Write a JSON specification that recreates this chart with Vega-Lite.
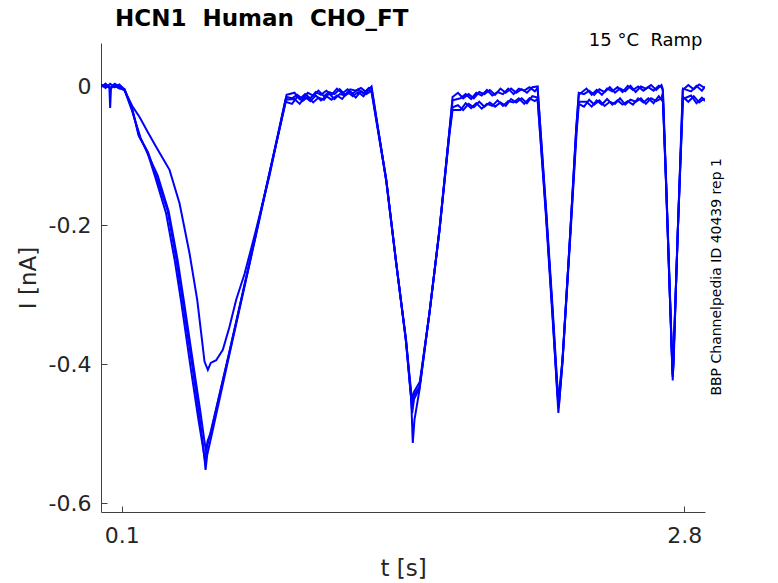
{
  "$schema": "https://vega.github.io/schema/vega-lite/v6.json",
  "width": 604,
  "height": 469,
  "autosize": {"type": "none"},
  "padding": {"left": 101, "top": 43, "right": 73, "bottom": 71},
  "background": "white",
  "config": {"view": {"stroke": null}},
  "title": {
    "text": "HCN1\u00a0 Human\u00a0 CHO_FT",
    "anchor": "start",
    "frame": "group",
    "dx": 14,
    "offset": 0,
    "dy": 17,
    "baseline": "alphabetic",
    "font": "DejaVu Sans",
    "fontSize": 23,
    "fontWeight": "bold",
    "color": "#000000"
  },
  "datasets": {
    "sweeps": [
      {"s":"A","t":0,"i":0.003},{"s":"A","t":0.022,"i":-0.002},{"s":"A","t":0.044,"i":0.004},{"s":"A","t":0.066,"i":-0.001},{"s":"A","t":0.088,"i":0.003},
      {"s":"A","t":0.113,"i":-0.004},{"s":"A","t":0.15,"i":-0.033},{"s":"A","t":0.185,"i":-0.073},{"s":"A","t":0.226,"i":-0.095},{"s":"A","t":0.266,"i":-0.13},{"s":"A","t":0.319,"i":-0.178},{"s":"A","t":0.362,"i":-0.25},{"s":"A","t":0.391,"i":-0.307},{"s":"A","t":0.439,"i":-0.404},{"s":"A","t":0.473,"i":-0.476},{"s":"A","t":0.487,"i":-0.509},{"s":"A","t":0.497,"i":-0.535},{"s":"A","t":0.502,"i":-0.552},{"s":"A","t":0.51,"i":-0.53},{"s":"A","t":0.526,"i":-0.509},{"s":"A","t":0.617,"i":-0.385},{"s":"A","t":0.713,"i":-0.256},{"s":"A","t":0.809,"i":-0.126},{"s":"A","t":0.891,"i":-0.015},
      {"s":"A","t":0.917,"i":-0.017},{"s":"A","t":0.942,"i":-0.012},{"s":"A","t":0.968,"i":-0.018},{"s":"A","t":0.993,"i":-0.009},{"s":"A","t":1.019,"i":-0.013},{"s":"A","t":1.044,"i":-0.006},{"s":"A","t":1.07,"i":-0.014},{"s":"A","t":1.095,"i":-0.008},{"s":"A","t":1.121,"i":-0.011},{"s":"A","t":1.146,"i":-0.004},{"s":"A","t":1.172,"i":-0.012},{"s":"A","t":1.197,"i":-0.004},{"s":"A","t":1.223,"i":-0.006},{"s":"A","t":1.248,"i":-0.002},{"s":"A","t":1.274,"i":-0.008},{"s":"A","t":1.299,"i":0.0},
      {"s":"A","t":1.369,"i":-0.135},{"s":"A","t":1.417,"i":-0.254},{"s":"A","t":1.465,"i":-0.365},{"s":"A","t":1.489,"i":-0.447},{"s":"A","t":1.497,"i":-0.513},{"s":"A","t":1.505,"i":-0.48},{"s":"A","t":1.529,"i":-0.437},{"s":"A","t":1.577,"i":-0.326},{"s":"A","t":1.625,"i":-0.207},{"s":"A","t":1.673,"i":-0.063},{"s":"A","t":1.688,"i":-0.015},
      {"s":"A","t":1.714,"i":-0.009},{"s":"A","t":1.739,"i":-0.017},{"s":"A","t":1.765,"i":-0.011},{"s":"A","t":1.79,"i":-0.017},{"s":"A","t":1.816,"i":-0.008},{"s":"A","t":1.841,"i":-0.011},{"s":"A","t":1.867,"i":-0.005},{"s":"A","t":1.892,"i":-0.012},{"s":"A","t":1.918,"i":-0.003},{"s":"A","t":1.943,"i":-0.009},{"s":"A","t":1.969,"i":-0.003},{"s":"A","t":1.994,"i":-0.009},{"s":"A","t":2.02,"i":-0.004},{"s":"A","t":2.045,"i":-0.009},{"s":"A","t":2.071,"i":-0.001},{"s":"A","t":2.096,"i":0.0},
      {"s":"A","t":2.137,"i":-0.182},{"s":"A","t":2.168,"i":-0.326},{"s":"A","t":2.196,"i":-0.47},{"s":"A","t":2.215,"i":-0.398},{"s":"A","t":2.249,"i":-0.231},{"s":"A","t":2.281,"i":-0.063},{"s":"A","t":2.294,"i":-0.009},
      {"s":"A","t":2.319,"i":-0.011},{"s":"A","t":2.344,"i":-0.006},{"s":"A","t":2.368,"i":-0.012},{"s":"A","t":2.393,"i":-0.004},{"s":"A","t":2.418,"i":-0.008},{"s":"A","t":2.443,"i":-0.001},{"s":"A","t":2.468,"i":-0.009},{"s":"A","t":2.492,"i":-0.003},{"s":"A","t":2.517,"i":-0.007},{"s":"A","t":2.542,"i":0.001},{"s":"A","t":2.567,"i":-0.008},{"s":"A","t":2.592,"i":0.0},{"s":"A","t":2.616,"i":-0.003},{"s":"A","t":2.641,"i":0.002},{"s":"A","t":2.666,"i":-0.005},{"s":"A","t":2.691,"i":0.002},
      {"s":"A","t":2.697,"i":-0.003},{"s":"A","t":2.713,"i":-0.138},{"s":"A","t":2.73,"i":-0.29},{"s":"A","t":2.745,"i":-0.423},{"s":"A","t":2.769,"i":-0.211},{"s":"A","t":2.793,"i":-0.005},
      {"s":"A","t":2.82,"i":0.002},{"s":"A","t":2.846,"i":-0.004},{"s":"A","t":2.872,"i":0.003},{"s":"A","t":2.898,"i":-0.002},

      {"s":"B","t":0,"i":-0.001},{"s":"B","t":0.022,"i":0.004},{"s":"B","t":0.044,"i":-0.003},{"s":"B","t":0.066,"i":0.002},{"s":"B","t":0.088,"i":-0.002},
      {"s":"B","t":0.113,"i":-0.005},{"s":"B","t":0.15,"i":-0.036},{"s":"B","t":0.19,"i":-0.074},{"s":"B","t":0.232,"i":-0.102},{"s":"B","t":0.272,"i":-0.128},{"s":"B","t":0.325,"i":-0.18},{"s":"B","t":0.368,"i":-0.25},{"s":"B","t":0.397,"i":-0.307},{"s":"B","t":0.445,"i":-0.404},{"s":"B","t":0.478,"i":-0.47},{"s":"B","t":0.494,"i":-0.505},{"s":"B","t":0.504,"i":-0.525},{"s":"B","t":0.512,"i":-0.51},{"s":"B","t":0.528,"i":-0.498},{"s":"B","t":0.62,"i":-0.378},{"s":"B","t":0.716,"i":-0.25},{"s":"B","t":0.812,"i":-0.12},{"s":"B","t":0.891,"i":-0.012},
      {"s":"B","t":0.929,"i":-0.009},{"s":"B","t":0.954,"i":-0.018},{"s":"B","t":0.98,"i":-0.011},{"s":"B","t":1.005,"i":-0.017},{"s":"B","t":1.031,"i":-0.008},{"s":"B","t":1.056,"i":-0.012},{"s":"B","t":1.082,"i":-0.006},{"s":"B","t":1.107,"i":-0.012},{"s":"B","t":1.133,"i":-0.003},{"s":"B","t":1.158,"i":-0.01},{"s":"B","t":1.184,"i":-0.004},{"s":"B","t":1.209,"i":-0.01},{"s":"B","t":1.235,"i":-0.004},{"s":"B","t":1.26,"i":-0.01},{"s":"B","t":1.286,"i":-0.002},{"s":"B","t":1.299,"i":-0.003},
      {"s":"B","t":1.371,"i":-0.138},{"s":"B","t":1.419,"i":-0.258},{"s":"B","t":1.466,"i":-0.37},{"s":"B","t":1.486,"i":-0.43},{"s":"B","t":1.492,"i":-0.451},{"s":"B","t":1.502,"i":-0.44},{"s":"B","t":1.531,"i":-0.425},{"s":"B","t":1.579,"i":-0.322},{"s":"B","t":1.627,"i":-0.2},{"s":"B","t":1.675,"i":-0.058},{"s":"B","t":1.688,"i":-0.02},
      {"s":"B","t":1.726,"i":-0.017},{"s":"B","t":1.751,"i":-0.011},{"s":"B","t":1.777,"i":-0.018},{"s":"B","t":1.802,"i":-0.009},{"s":"B","t":1.828,"i":-0.013},{"s":"B","t":1.853,"i":-0.005},{"s":"B","t":1.879,"i":-0.013},{"s":"B","t":1.904,"i":-0.008},{"s":"B","t":1.93,"i":-0.011},{"s":"B","t":1.955,"i":-0.003},{"s":"B","t":1.981,"i":-0.011},{"s":"B","t":2.006,"i":-0.003},{"s":"B","t":2.032,"i":-0.006},{"s":"B","t":2.057,"i":-0.001},{"s":"B","t":2.083,"i":-0.007},{"s":"B","t":2.096,"i":-0.002},
      {"s":"B","t":2.138,"i":-0.18},{"s":"B","t":2.169,"i":-0.322},{"s":"B","t":2.193,"i":-0.44},{"s":"B","t":2.197,"i":-0.455},{"s":"B","t":2.203,"i":-0.43},{"s":"B","t":2.217,"i":-0.39},{"s":"B","t":2.25,"i":-0.226},{"s":"B","t":2.282,"i":-0.06},{"s":"B","t":2.294,"i":-0.012},
      {"s":"B","t":2.331,"i":-0.003},{"s":"B","t":2.356,"i":-0.012},{"s":"B","t":2.38,"i":-0.005},{"s":"B","t":2.405,"i":-0.012},{"s":"B","t":2.43,"i":-0.003},{"s":"B","t":2.455,"i":-0.007},{"s":"B","t":2.48,"i":-0.001},{"s":"B","t":2.504,"i":-0.008},{"s":"B","t":2.529,"i":0.001},{"s":"B","t":2.554,"i":-0.005},{"s":"B","t":2.579,"i":0.0},{"s":"B","t":2.604,"i":-0.006},{"s":"B","t":2.628,"i":-0.001},{"s":"B","t":2.653,"i":-0.006},{"s":"B","t":2.678,"i":0.001},{"s":"B","t":2.691,"i":-0.001},
      {"s":"B","t":2.698,"i":-0.006},{"s":"B","t":2.714,"i":-0.14},{"s":"B","t":2.731,"i":-0.29},{"s":"B","t":2.744,"i":-0.41},{"s":"B","t":2.748,"i":-0.395},{"s":"B","t":2.77,"i":-0.205},{"s":"B","t":2.794,"i":-0.003},
      {"s":"B","t":2.833,"i":-0.007},{"s":"B","t":2.859,"i":0.001},{"s":"B","t":2.885,"i":-0.006},{"s":"B","t":2.9,"i":0.0},

      {"s":"C","t":0,"i":0.002},{"s":"C","t":0.022,"i":-0.001},{"s":"C","t":0.04,"i":0.0},{"s":"C","t":0.044,"i":-0.031},{"s":"C","t":0.048,"i":-0.002},{"s":"C","t":0.066,"i":0.001},{"s":"C","t":0.088,"i":-0.003},
      {"s":"C","t":0.113,"i":-0.004},{"s":"C","t":0.148,"i":-0.03},{"s":"C","t":0.18,"i":-0.07},{"s":"C","t":0.22,"i":-0.092},{"s":"C","t":0.258,"i":-0.128},{"s":"C","t":0.312,"i":-0.182},{"s":"C","t":0.355,"i":-0.252},{"s":"C","t":0.385,"i":-0.31},{"s":"C","t":0.432,"i":-0.408},{"s":"C","t":0.468,"i":-0.48},{"s":"C","t":0.49,"i":-0.52},{"s":"C","t":0.499,"i":-0.538},{"s":"C","t":0.508,"i":-0.52},{"s":"C","t":0.522,"i":-0.503},{"s":"C","t":0.612,"i":-0.388},{"s":"C","t":0.708,"i":-0.26},{"s":"C","t":0.803,"i":-0.132},{"s":"C","t":0.887,"i":-0.022},
      {"s":"C","t":0.917,"i":-0.025},{"s":"C","t":0.942,"i":-0.015},{"s":"C","t":0.968,"i":-0.021},{"s":"C","t":0.993,"i":-0.015},{"s":"C","t":1.019,"i":-0.023},{"s":"C","t":1.044,"i":-0.016},{"s":"C","t":1.07,"i":-0.019},{"s":"C","t":1.095,"i":-0.01},{"s":"C","t":1.121,"i":-0.018},{"s":"C","t":1.146,"i":-0.011},{"s":"C","t":1.172,"i":-0.013},{"s":"C","t":1.197,"i":-0.008},{"s":"C","t":1.223,"i":-0.016},{"s":"C","t":1.248,"i":-0.007},{"s":"C","t":1.274,"i":-0.011},{"s":"C","t":1.299,"i":-0.006},
      {"s":"C","t":1.368,"i":-0.13},{"s":"C","t":1.416,"i":-0.25},{"s":"C","t":1.462,"i":-0.36},{"s":"C","t":1.487,"i":-0.44},{"s":"C","t":1.494,"i":-0.47},{"s":"C","t":1.503,"i":-0.45},{"s":"C","t":1.528,"i":-0.435},{"s":"C","t":1.576,"i":-0.328},{"s":"C","t":1.624,"i":-0.21},{"s":"C","t":1.672,"i":-0.068},{"s":"C","t":1.688,"i":-0.03},
      {"s":"C","t":1.714,"i":-0.027},{"s":"C","t":1.739,"i":-0.034},{"s":"C","t":1.765,"i":-0.025},{"s":"C","t":1.79,"i":-0.03},{"s":"C","t":1.816,"i":-0.022},{"s":"C","t":1.841,"i":-0.029},{"s":"C","t":1.867,"i":-0.023},{"s":"C","t":1.892,"i":-0.029},{"s":"C","t":1.918,"i":-0.023},{"s":"C","t":1.943,"i":-0.028},{"s":"C","t":1.969,"i":-0.018},{"s":"C","t":1.994,"i":-0.023},{"s":"C","t":2.02,"i":-0.017},{"s":"C","t":2.045,"i":-0.024},{"s":"C","t":2.071,"i":-0.014},{"s":"C","t":2.096,"i":-0.016},
      {"s":"C","t":2.136,"i":-0.185},{"s":"C","t":2.167,"i":-0.328},{"s":"C","t":2.192,"i":-0.445},{"s":"C","t":2.198,"i":-0.462},{"s":"C","t":2.204,"i":-0.44},{"s":"C","t":2.216,"i":-0.396},{"s":"C","t":2.25,"i":-0.233},{"s":"C","t":2.283,"i":-0.068},{"s":"C","t":2.294,"i":-0.025},
      {"s":"C","t":2.319,"i":-0.029},{"s":"C","t":2.344,"i":-0.019},{"s":"C","t":2.368,"i":-0.026},{"s":"C","t":2.393,"i":-0.02},{"s":"C","t":2.418,"i":-0.028},{"s":"C","t":2.443,"i":-0.022},{"s":"C","t":2.468,"i":-0.025},{"s":"C","t":2.492,"i":-0.017},{"s":"C","t":2.517,"i":-0.026},{"s":"C","t":2.542,"i":-0.019},{"s":"C","t":2.567,"i":-0.022},{"s":"C","t":2.592,"i":-0.017},{"s":"C","t":2.616,"i":-0.025},{"s":"C","t":2.641,"i":-0.017},{"s":"C","t":2.666,"i":-0.021},{"s":"C","t":2.691,"i":-0.017},
      {"s":"C","t":2.697,"i":-0.01},{"s":"C","t":2.713,"i":-0.14},{"s":"C","t":2.73,"i":-0.29},{"s":"C","t":2.744,"i":-0.415},{"s":"C","t":2.748,"i":-0.4},{"s":"C","t":2.769,"i":-0.212},{"s":"C","t":2.794,"i":-0.015},
      {"s":"C","t":2.82,"i":-0.022},{"s":"C","t":2.846,"i":-0.014},{"s":"C","t":2.872,"i":-0.023},{"s":"C","t":2.898,"i":-0.017},

      {"s":"D","t":0,"i":0.0},{"s":"D","t":0.022,"i":0.003},{"s":"D","t":0.044,"i":-0.002},{"s":"D","t":0.066,"i":0.004},{"s":"D","t":0.088,"i":0.0},
      {"s":"D","t":0.113,"i":-0.006},{"s":"D","t":0.15,"i":-0.028},{"s":"D","t":0.185,"i":-0.044},{"s":"D","t":0.225,"i":-0.066},{"s":"D","t":0.265,"i":-0.087},{"s":"D","t":0.329,"i":-0.12},{"s":"D","t":0.377,"i":-0.168},{"s":"D","t":0.425,"i":-0.24},{"s":"D","t":0.462,"i":-0.307},{"s":"D","t":0.481,"i":-0.355},{"s":"D","t":0.497,"i":-0.396},{"s":"D","t":0.513,"i":-0.408},{"s":"D","t":0.527,"i":-0.398},{"s":"D","t":0.553,"i":-0.394},{"s":"D","t":0.585,"i":-0.379},{"s":"D","t":0.617,"i":-0.346},{"s":"D","t":0.649,"i":-0.307},{"s":"D","t":0.689,"i":-0.27},{"s":"D","t":0.737,"i":-0.215},{"s":"D","t":0.809,"i":-0.128},{"s":"D","t":0.886,"i":-0.019},
      {"s":"D","t":0.929,"i":-0.018},{"s":"D","t":0.954,"i":-0.025},{"s":"D","t":0.98,"i":-0.015},{"s":"D","t":1.005,"i":-0.021},{"s":"D","t":1.031,"i":-0.013},{"s":"D","t":1.056,"i":-0.02},{"s":"D","t":1.082,"i":-0.014},{"s":"D","t":1.107,"i":-0.019},{"s":"D","t":1.133,"i":-0.013},{"s":"D","t":1.158,"i":-0.018},{"s":"D","t":1.184,"i":-0.008},{"s":"D","t":1.209,"i":-0.014},{"s":"D","t":1.235,"i":-0.008},{"s":"D","t":1.26,"i":-0.014},{"s":"D","t":1.286,"i":-0.004},{"s":"D","t":1.299,"i":-0.008},
      {"s":"D","t":1.37,"i":-0.136},{"s":"D","t":1.418,"i":-0.256},{"s":"D","t":1.464,"i":-0.366},{"s":"D","t":1.486,"i":-0.44},{"s":"D","t":1.493,"i":-0.46},{"s":"D","t":1.501,"i":-0.445},{"s":"D","t":1.53,"i":-0.432},{"s":"D","t":1.578,"i":-0.324},{"s":"D","t":1.626,"i":-0.205},{"s":"D","t":1.674,"i":-0.066},{"s":"D","t":1.688,"i":-0.034},
      {"s":"D","t":1.726,"i":-0.034},{"s":"D","t":1.751,"i":-0.024},{"s":"D","t":1.777,"i":-0.031},{"s":"D","t":1.802,"i":-0.024},{"s":"D","t":1.828,"i":-0.032},{"s":"D","t":1.853,"i":-0.025},{"s":"D","t":1.879,"i":-0.028},{"s":"D","t":1.904,"i":-0.02},{"s":"D","t":1.93,"i":-0.028},{"s":"D","t":1.955,"i":-0.021},{"s":"D","t":1.981,"i":-0.023},{"s":"D","t":2.006,"i":-0.017},{"s":"D","t":2.032,"i":-0.025},{"s":"D","t":2.057,"i":-0.017},{"s":"D","t":2.083,"i":-0.021},{"s":"D","t":2.096,"i":-0.018},
      {"s":"D","t":2.137,"i":-0.183},{"s":"D","t":2.168,"i":-0.325},{"s":"D","t":2.192,"i":-0.44},{"s":"D","t":2.197,"i":-0.458},{"s":"D","t":2.203,"i":-0.438},{"s":"D","t":2.216,"i":-0.392},{"s":"D","t":2.249,"i":-0.232},{"s":"D","t":2.282,"i":-0.066},{"s":"D","t":2.294,"i":-0.022},
      {"s":"D","t":2.331,"i":-0.022},{"s":"D","t":2.356,"i":-0.029},{"s":"D","t":2.38,"i":-0.02},{"s":"D","t":2.405,"i":-0.026},{"s":"D","t":2.43,"i":-0.018},{"s":"D","t":2.455,"i":-0.026},{"s":"D","t":2.48,"i":-0.02},{"s":"D","t":2.504,"i":-0.026},{"s":"D","t":2.529,"i":-0.021},{"s":"D","t":2.554,"i":-0.026},{"s":"D","t":2.579,"i":-0.017},{"s":"D","t":2.604,"i":-0.023},{"s":"D","t":2.628,"i":-0.017},{"s":"D","t":2.653,"i":-0.024},{"s":"D","t":2.678,"i":-0.014},{"s":"D","t":2.691,"i":-0.019},
      {"s":"D","t":2.697,"i":-0.012},{"s":"D","t":2.713,"i":-0.138},{"s":"D","t":2.73,"i":-0.29},{"s":"D","t":2.745,"i":-0.418},{"s":"D","t":2.749,"i":-0.4},{"s":"D","t":2.769,"i":-0.21},{"s":"D","t":2.794,"i":-0.018},
      {"s":"D","t":2.833,"i":-0.013},{"s":"D","t":2.859,"i":-0.024},{"s":"D","t":2.885,"i":-0.016},{"s":"D","t":2.9,"i":-0.021}
    ]
  },
  "layer": [
    {
      "data": {"name": "sweeps"},
      "mark": {"type": "line", "color": "#0000ff", "strokeWidth": 2, "clip": true},
      "encoding": {
        "x": {
          "field": "t",
          "type": "quantitative",
          "scale": {"domain": [0, 2.9], "nice": false, "zero": false},
          "axis": {
            "values": [0.1, 2.8],
            "format": ".1f",
            "grid": false,
            "domainColor": "#404040",
            "tickColor": "#404040",
            "tickSize": -6,
            "labelFont": "DejaVu Sans",
            "labelFontSize": 22,
            "labelColor": "#262626",
            "labelBaseline": "alphabetic",
            "labelPadding": 36,
            "labelFlush": false,
            "title": "t [s]",
            "titleFont": "DejaVu Sans",
            "titleFontSize": 23,
            "titleFontWeight": "normal",
            "titleColor": "#262626",
            "titleBaseline": "alphabetic",
            "titleY": 63
          }
        },
        "y": {
          "field": "i",
          "type": "quantitative",
          "scale": {"domain": [-0.6125, 0.0626], "nice": false, "zero": false},
          "axis": {
            "values": [0, -0.2, -0.4, -0.6],
            "labelExpr": "datum.value == 0 ? '0' : '-' + format(-datum.value, '.1f')",
            "grid": false,
            "domainColor": "#404040",
            "tickColor": "#404040",
            "tickSize": -6,
            "labelFont": "DejaVu Sans",
            "labelFontSize": 22,
            "labelColor": "#262626",
            "labelPadding": 16,
            "labelFlush": false,
            "title": "I [nA]",
            "titleFont": "DejaVu Sans",
            "titleFontSize": 23,
            "titleFontWeight": "normal",
            "titleColor": "#262626",
            "titleAngle": 270,
            "titleBaseline": "alphabetic",
            "titleAlign": "center",
            "titleX": -66,
            "titleY": 234.5
          }
        },
        "detail": {"field": "s", "type": "nominal"}
      }
    },
    {
      "data": {"values": [{}]},
      "mark": {"type": "text", "align": "right", "baseline": "alphabetic", "dy": 3, "font": "DejaVu Sans", "fontSize": 18, "color": "#000000"},
      "encoding": {
        "x": {"datum": 2.888, "type": "quantitative"},
        "y": {"datum": 0.0626, "type": "quantitative"},
        "text": {"value": "15 °C\u00a0 Ramp"}
      }
    },
    {
      "data": {"values": [{}]},
      "mark": {"type": "text", "align": "center", "baseline": "alphabetic", "angle": 270, "font": "DejaVu Sans", "fontSize": 14, "color": "#000000"},
      "encoding": {
        "x": {"datum": 2.979, "type": "quantitative"},
        "y": {"datum": -0.274, "type": "quantitative"},
        "text": {"value": "BBP Channelpedia ID 40439 rep 1"}
      }
    }
  ]
}
